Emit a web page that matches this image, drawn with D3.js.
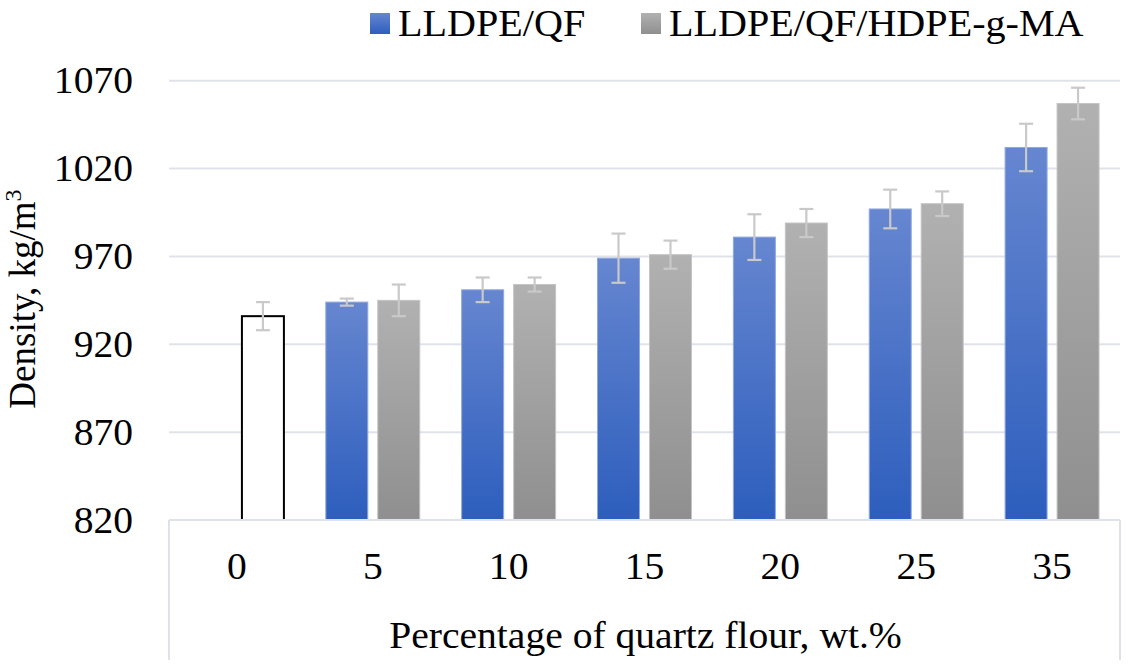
<!DOCTYPE html>
<html>
<head>
<meta charset="utf-8">
<script src="https://cdn.jsdelivr.net/npm/d3@7"></script>
<style>
  body { margin: 0; background: #fff; }
  text { font-family: "Liberation Serif", "Times New Roman", serif; fill: #000; }
</style>
</head>
<body>
<div id="chart"></div>
<script>
// data
var categories = ["0", "5", "10", "15", "20", "25", "35"];
var seriesNames = ["LLDPE/QF", "LLDPE/QF/HDPE-g-MA"];
var qfValues = [null, 944, 951, 969, 981, 997, 1032];
var qfErrors = [null, 2, 7, 14, 13, 11, 13.5];
var maValues = [null, 945, 954, 971, 989, 1000, 1057];
var maErrors = [null, 9, 4, 8, 8, 7, 9];
// neat LLDPE, the open bar at 0 wt.%
var neatValue = 936;
var neatError = 8;
var yTicks = [820, 870, 920, 970, 1020, 1070];

var width = 1130, height = 672;
var plotLeft = 169, plotRight = 1120, plotTop = 80.7, plotBottom = 520;
var stretchX = 1.07; // the original text is a bit wider than Liberation Serif

// place a text at (px, py), widened a little
function placeText(sel, px, py) {
    return sel.attr("transform", "translate(" + px + "," + py + ") scale(" + stretchX + ",1)");
}

var svg = d3.select("#chart").append("svg")
    .attr("width", width)
    .attr("height", height);

// gradients for the bars
var defs = svg.append("defs");
var blue = defs.append("linearGradient").attr("id", "gBlue")
    .attr("x1", 0).attr("y1", 0).attr("x2", 0).attr("y2", 1);
blue.append("stop").attr("offset", "0%").attr("stop-color", "#6686d0");
blue.append("stop").attr("offset", "100%").attr("stop-color", "#2d5ebd");
var grey = defs.append("linearGradient").attr("id", "gGrey")
    .attr("x1", 0).attr("y1", 0).attr("x2", 0).attr("y2", 1);
grey.append("stop").attr("offset", "0%").attr("stop-color", "#b1b1b1");
grey.append("stop").attr("offset", "100%").attr("stop-color", "#8f8f8f");

var x = d3.scaleBand()
    .domain(categories)
    .range([plotLeft, plotRight])
    .padding(0);

var x1 = d3.scaleBand()
    .domain(seriesNames)
    .range([0, x.bandwidth()])
    .paddingInner(0.192)
    .paddingOuter(0.403);

var y = d3.scaleLinear()
    .domain([820, 1070])
    .range([plotBottom, plotTop]);

//gridlines
svg.append("g")
    .selectAll("line")
    .data(yTicks.slice(1))
    .enter().append("line")
    .attr("x1", plotLeft)
    .attr("x2", plotRight)
    .attr("y1", function(d) { return y(d); })
    .attr("y2", function(d) { return y(d); })
    .attr("stroke", "#dfe3e9")
    .attr("stroke-width", 2);

//y tick labels
svg.append("g")
    .selectAll("text")
    .data(yTicks)
    .enter().append("text")
    .attr("transform", function(d) {
        return "translate(133," + (y(d) + 12.5) + ") scale(" + stretchX + ",1)";
    })
    .attr("text-anchor", "end")
    .attr("font-size", 37)
    .text(function(d) { return d; });

// bars
var series = [
    { name: seriesNames[0], values: qfValues, errors: qfErrors, fill: "url(#gBlue)", edge: "#8fa8e0" },
    { name: seriesNames[1], values: maValues, errors: maErrors, fill: "url(#gGrey)", edge: "#c4c4c4" }
];

var bars = [];
series.forEach(function(s) {
    categories.forEach(function(c, i) {
        if (s.values[i] != null) {
            bars.push({ cat: c, name: s.name, value: s.values[i], err: s.errors[i], fill: s.fill, edge: s.edge });
        }
    });
});
bars.push({ cat: "0", name: seriesNames[1], value: neatValue, err: neatError, fill: "#fff", edge: "#000", neat: true });

svg.append("g")
    .selectAll("rect")
    .data(bars)
    .enter().append("rect")
    .attr("x", function(d) { return x(d.cat) + x1(d.name); })
    .attr("y", function(d) { return y(d.value); })
    .attr("width", x1.bandwidth())
    .attr("height", function(d) { return plotBottom - y(d.value); })
    .attr("fill", function(d) { return d.fill; })
    .attr("stroke", function(d) { return d.edge; })
    .attr("stroke-width", function(d) { return d.neat ? 2 : 1; });

// x axis box
svg.append("line")
    .attr("x1", plotLeft).attr("x2", plotRight)
    .attr("y1", plotBottom).attr("y2", plotBottom)
    .attr("stroke", "#dfe3e9").attr("stroke-width", 2);
svg.append("line")
    .attr("x1", plotLeft).attr("x2", plotLeft)
    .attr("y1", plotBottom).attr("y2", 660)
    .attr("stroke", "#dfe3e9").attr("stroke-width", 2);
svg.append("line")
    .attr("x1", plotRight).attr("x2", plotRight)
    .attr("y1", plotBottom).attr("y2", 660)
    .attr("stroke", "#dfe3e9").attr("stroke-width", 2);

// error bars
var errG = svg.append("g")
    .attr("stroke", "#c9c9c9")
    .attr("stroke-width", 2.2);
bars.forEach(function(d) {
    var cx = x(d.cat) + x1(d.name) + x1.bandwidth() / 2;
    var hi = y(d.value + d.err), lo = y(d.value - d.err);
    errG.append("line").attr("x1", cx).attr("x2", cx).attr("y1", hi).attr("y2", lo);
    errG.append("line").attr("x1", cx - 7).attr("x2", cx + 7).attr("y1", hi).attr("y2", hi);
    errG.append("line").attr("x1", cx - 7).attr("x2", cx + 7).attr("y1", lo).attr("y2", lo);
});

//x tick labels
svg.append("g")
    .selectAll("text")
    .data(categories)
    .enter().append("text")
    .attr("transform", function(d) {
        return "translate(" + (x(d) + x.bandwidth() / 2) + ",579) scale(" + stretchX + ",1)";
    })
    .attr("text-anchor", "middle")
    .attr("font-size", 37)
    .text(function(d) { return d; });

//axis titles
placeText(svg.append("text"), (plotLeft + plotRight) / 2 + 1, 648)
    .attr("text-anchor", "middle")
    .attr("font-size", 37)
    .text("Percentage of quartz flour, wt.%");

var yTitle = svg.append("text")
    .attr("transform", "translate(35,299) rotate(-90)")
    .attr("text-anchor", "middle")
    .attr("font-size", 37);
yTitle.append("tspan").text("Density, kg/m");
yTitle.append("tspan").attr("font-size", 24).attr("dy", -14).text("3");

//legend
var legendX = [370, 641];
series.forEach(function(s, i) {
    svg.append("rect")
        .attr("x", legendX[i])
        .attr("y", 13)
        .attr("width", 20)
        .attr("height", 21)
        .attr("fill", s.fill);
    placeText(svg.append("text"), legendX[i] + 28, 36)
        .attr("font-size", 37.5)
        .text(s.name);
});
</script>
</body>
</html>
